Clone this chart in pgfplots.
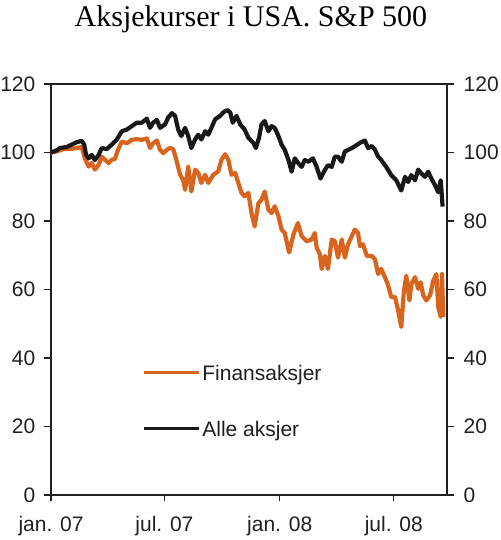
\documentclass[border=0pt]{standalone}
\usepackage{fontspec}
\setmainfont{Liberation Serif}
\newfontfamily\arialf{Liberation Sans}
\usepackage{pgfplots}
\pgfplotsset{compat=1.18}
\definecolor{orangeline}{RGB}{217,100,30}
\definecolor{blackline}{RGB}{26,24,24}
\definecolor{axisgray}{RGB}{35,31,32}
\begin{document}
\begin{tikzpicture}
\path[use as bounding box] (-51pt,-45pt) rectangle (449pt,495pt);
\begin{axis}[
  scale only axis, width=396pt, height=411pt,
  xmin=0, xmax=632, ymin=0, ymax=120,
  ytick={0,20,...,120},
  xtick={0,181,365,547},
  xticklabels={jan. 07, jul. 07, jan. 08, jul. 08},
  tick align=outside, xtick pos=bottom, ytick pos=left,
  major tick length=6.5pt,
  axis line style={line width=1.2pt, color=axisgray},
  every tick/.style={line width=1.2pt, color=axisgray},
  tick label style={font=\arialf\fontsize{21}{21}\selectfont, color=axisgray, inner sep=0pt, text height=15pt, text depth=0pt},
  /pgf/number format/assume math mode=true,
  yticklabel style={xshift=-9pt},
  xticklabel style={yshift=-14.5pt},
  title={Aksjekurser i USA. S\&P 500},
  title style={font=\fontsize{30}{30}\selectfont, at={(0.505,1.1265)}, anchor=base, inner sep=0pt},
  legend style={draw=none, fill=none, font=\arialf\fontsize{21}{21}\selectfont, text=axisgray,
     at={(0.2298,0.2304)}, anchor=west, inner sep=0pt, row sep=39pt, column sep=2pt,
     nodes={inner sep=0pt, text height=17pt, text depth=0pt}},
  legend cell align=left,
  legend image code/.code={\draw[#1, line width=3.2pt] (0pt,0pt) -- (55pt,0pt);},
]
\addplot[orangeline, line width=4.2pt, line join=round] coordinates {
(0,100) (9,100.3) (20,101) (30,101) (41,101.3) (49,101.6) (54,98.3) (60,95.9) (65,96.9) (70,95) (76,96.4) (81,98.8) (86,97.9) (92,96.9) (97,97.9) (102,98.1) (107,100.8) (113,103.2) (121,102.7) (129,103.7) (137,103.9) (145,103.7) (153,104.1) (158,101.3) (163,102.7) (169,103.5) (174,100.8) (179,99.8) (185,100.8) (190,101.3) (195,101) (200,97.9) (206,93.5) (211,92) (214,89.1) (219,95.9) (224,88.6) (230,95) (235,94) (240,91.1) (246,93.5) (251,91.1) (259,93.5) (267,94.5) (272,97.9) (278,99.5) (283,97.9) (288,93.5) (294,94) (299,91.1) (304,88.2) (309,87.2) (315,88.2) (320,82.3) (325,78.4) (331,85.2) (336,86.2) (341,88.6) (347,83.3) (352,82.3) (357,84.3) (363,81.4) (368,77.5) (373,76.5) (380,70.8) (387,76.1) (394,79.4) (400,75.6) (408,74.1) (416,74.6) (421,76.5) (424,72.2) (429,70.3) (432,66) (437,69.8) (442,66) (448,74.6) (453,74.1) (458,69.3) (464,74.6) (469,69.3) (474,73.2) (480,75.6) (485,77.5) (490,76.5) (493,72.7) (498,73.2) (504,69.8) (512,69.8) (517,68.8) (522,64.5) (527,66) (533,63.6) (538,61.2) (543,57.8) (549,57.8) (554,53.9) (559,49.1) (563,59.2) (567,64) (572,56.8) (575,61.6) (581,63.6) (586,60.2) (590,62.1) (594,58.3) (599,56.8) (605,58.3) (610,62.6) (615,64.5) (618,54.9) (622,52) (624,64.5) (626,52)
};
\addlegendentry{Finansaksjer}
\addplot[blackline, line width=4.2pt, line join=round] coordinates {
(0,100) (9,100.6) (14,101.3) (25,101.6) (33,102.3) (41,103) (49,103.4) (53,102.3) (56,99.3) (60,98.3) (65,99.3) (70,97.8) (76,99.3) (81,101.3) (89,101) (97,102.3) (105,103.8) (113,106.2) (121,106.7) (129,107.7) (137,108.7) (145,108.7) (153,109.9) (158,107.2) (163,108.7) (169,109.5) (174,107.2) (182,108.2) (187,110.2) (193,111.5) (198,110.7) (203,106.7) (208,104.8) (214,107.2) (219,104.8) (224,101.3) (230,103.8) (235,105.2) (240,103.8) (246,106.2) (251,105.2) (256,107.2) (262,109.7) (270,110.7) (275,111.7) (281,112.4) (286,111.7) (290,108.7) (296,110.7) (302,108.2) (309,106.7) (315,104.3) (323,102.8) (327,101.3) (332,104.3) (336,108.2) (341,109.2) (347,106.2) (352,107.7) (357,107.2) (363,104.8) (368,102.3) (373,100.8) (379,97.8) (384,94.4) (389,98.3) (395,96.8) (400,95.8) (405,97.8) (411,97.3) (418,98.3) (424,95.8) (430,92.4) (437,94.9) (442,96.3) (448,95.8) (453,98.8) (458,98.8) (464,97.3) (469,100.3) (477,101) (485,101.8) (493,102.8) (501,103.5) (506,101.3) (512,101.9) (517,100.8) (522,98.8) (527,97.8) (535,95.8) (543,93.4) (551,91.9) (559,88.9) (565,92.9) (570,91.4) (575,93.4) (581,91.9) (586,95) (591,93.9) (597,92.9) (602,94.4) (607,92.4) (613,90.4) (618,88.4) (622,91.9) (625,84.2)
};
\addlegendentry{Alle aksjer}
\end{axis}
\begin{axis}[
  scale only axis, width=396pt, height=411pt,
  xmin=0, xmax=632, ymin=0, ymax=120,
  ytick={0,20,...,120},
  axis y line*=right, hide x axis,
  tick align=outside,
  major tick length=6.5pt,
  axis line style={line width=1.2pt, color=axisgray},
  every tick/.style={line width=1.2pt, color=axisgray},
  tick label style={font=\arialf\fontsize{21}{21}\selectfont, color=axisgray, inner sep=0pt, text height=15pt, text depth=0pt},
  /pgf/number format/assume math mode=true,
  yticklabel style={xshift=10pt},
]
\end{axis}
\end{tikzpicture}
\end{document}
